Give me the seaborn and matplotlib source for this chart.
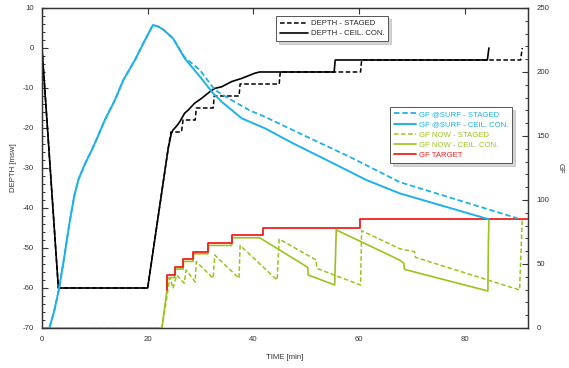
import numpy as np
import pandas as pd
import seaborn as sns
import matplotlib
matplotlib.use("Agg")
import matplotlib.pyplot as plt
from matplotlib.ticker import MultipleLocator

# depth profiles [min], [msw]
t_depth_cc = [0, 3.1, 20, 23.9, 24.5, 24.8, 25.5, 26.1, 27.0, 27.7, 28.9, 30.2, 31.8,
              32.7, 34.0, 35.9, 37.8, 40.3, 41.2, 55.3, 55.5, 84.3, 84.6]
depth_cc = [0, -60, -60, -25, -21.3, -20.5, -19.5, -18.4, -16.3, -15.5, -13.8, -12.6, -10.9,
            -10.1, -9.7, -8.4, -7.6, -6.3, -6.0, -6.0, -3.0, -3.0, 0]
t_depth_st = [0, 3.1, 20, 23.9, 24.4, 26.4, 26.7, 29.0, 29.2, 32.4, 32.6, 37.3, 37.5, 44.9,
              45.1, 60.3, 60.5, 90.6, 90.9]
depth_st = [0, -60, -60, -25, -21, -21, -18, -18, -15, -15, -12, -12, -9, -9,
            -6, -6, -3, -3, 0]

# gradient factors [%]
t_surf_cc = [0, 1.4, 2.3, 3.2, 4.2, 5.2, 6.1, 6.9, 8.0, 9.3, 10.3, 11.9, 13.8, 15.4, 17.6,
             19.5, 21.0, 22.0, 22.9, 24.8, 27.0, 29.9, 32.4, 34.0, 37.8, 42.2, 47.5, 55.1,
             61.4, 67.7, 84.6]
gf_surf_cc = [0, 0, 13, 30, 55, 82, 103, 116, 127, 138, 147, 162.5, 178, 193.7, 209.4,
              225, 236.7, 235.5, 233.3, 226.3, 210.7, 196.3, 183.3, 176.8, 163.8, 156, 144.3,
              128.7, 115.6, 105.2, 84.9]
t_surf_st = [0, 1.4, 2.3, 3.2, 4.2, 5.2, 6.1, 6.9, 8.0, 9.3, 10.3, 11.9, 13.8, 15.4, 17.6,
             19.5, 21.0, 22.0, 22.9, 24.8, 27.0, 28.3, 29.9, 32.7, 35.9, 39.3, 42.2, 48.8,
             58.2, 67.7, 90.0]
gf_surf_st = [0, 0, 13, 30, 55, 82, 103, 116, 127, 138, 147, 162.5, 178, 193.7, 209.4,
              225, 236.7, 235.5, 233.3, 226.3, 211.5, 207, 201.5, 186, 178, 170, 165, 152,
              133.8, 114, 85.7]
t_now_st = [0, 22.7, 23.6, 24.2, 24.8, 25.5, 26.9, 27.3, 29.0, 29.2, 32.4, 32.7, 37.3, 37.5,
            44.5, 44.9, 51.9, 52.0, 60.3, 60.5, 67.7, 70.5, 70.7, 90.4, 90.9]
gf_now_st = [0, 0, 23, 39.6, 31, 41.4, 35, 45.3, 36, 51.8, 38.8, 57, 38.8, 64.5,
             37.5, 69.5, 53.1, 46.6, 33.6, 76, 62, 59.6, 55.2, 29.7, 85]
t_now_cc = [0, 22.7, 23.6, 23.8, 25.1, 25.2, 26.7, 26.8, 28.6, 28.7, 31.4, 31.5, 35.9, 36.0,
            41.2, 50.3, 50.4, 55.4, 55.7, 67.7, 68.5, 68.6, 84.4, 84.5, 84.6]
gf_now_cc = [0, 0, 28, 39, 39.5, 46, 46, 52, 52, 58, 58, 64.5, 64.5, 70.5,
             70.5, 47.4, 41.4, 33.6, 76.6, 53.1, 50.5, 45.8, 28.9, 67, 85]
t_target = [23.6, 23.6, 25.1, 25.1, 26.7, 26.7, 28.6, 28.6, 31.4, 31.4, 35.9, 35.9,
            41.8, 41.8, 60.1, 60.1, 92]
gf_target = [30, 41.4, 41.4, 47.9, 47.9, 53.9, 53.9, 59.6, 59.6, 66.1, 66.1, 72.6,
             72.6, 77.9, 77.9, 85, 85]

blue = "#1fb0ea"
green = "#9bc31e"
red = "#f02020"

sns.set_style("white")
plt.rcParams["font.family"] = ["Liberation Sans", "DejaVu Sans"]
plt.rcParams["axes.unicode_minus"] = False
fs = 5.6

fig = plt.figure(figsize=(5.69, 3.68), dpi=100)
ax = fig.add_axes([0.0738, 0.1087, 0.8542, 0.8696])
ax2 = ax.twinx()

kw = dict(sort=False, estimator=None, legend=False)
sns.lineplot(x=t_depth_st, y=depth_st, ax=ax, color="black", lw=1.1,
             linestyle=(0, (3, 1.6)), **kw)
sns.lineplot(x=t_depth_cc, y=depth_cc, ax=ax, color="black", lw=1.2, **kw)

sns.lineplot(x=t_now_st, y=gf_now_st, ax=ax2, color=green, lw=1.1,
             linestyle=(0, (3, 1.6)), **kw)
sns.lineplot(x=t_now_cc, y=gf_now_cc, ax=ax2, color=green, lw=1.2, **kw)
sns.lineplot(x=t_target, y=gf_target, ax=ax2, color=red, lw=1.3, **kw)
sns.lineplot(x=t_surf_st, y=gf_surf_st, ax=ax2, color=blue, lw=1.3,
             linestyle=(0, (3, 1.6)), **kw)
sns.lineplot(x=t_surf_cc, y=gf_surf_cc, ax=ax2, color=blue, lw=1.4, **kw)

ax.set_xlim(0, 92)
ax.set_ylim(-70, 10)
ax2.set_ylim(0, 250)
ax.xaxis.set_major_locator(MultipleLocator(20))
ax.yaxis.set_major_locator(MultipleLocator(10))
ax.yaxis.set_minor_locator(MultipleLocator(2))
ax2.yaxis.set_major_locator(MultipleLocator(50))
ax2.yaxis.set_minor_locator(MultipleLocator(10))

ax.tick_params(axis="x", which="major", direction="in", length=4, width=0.8,
               top=True, labelsize=fs, colors="#333333", pad=6)
ax.tick_params(axis="y", which="major", direction="in", length=4, width=0.8,
               labelsize=fs, colors="#333333", pad=6)
ax.tick_params(axis="y", which="minor", direction="in", length=2, width=0.7,
               left=True, colors="#333333")
ax2.tick_params(axis="y", which="major", direction="in", length=4, width=0.8,
                labelsize=fs, colors="#333333", pad=6)
ax2.tick_params(axis="y", which="minor", direction="in", length=2, width=0.7,
                right=True, colors="#333333")

for a in (ax, ax2):
    for s in a.spines.values():
        s.set_color("#333333")
        s.set_linewidth(0.9)

ax.set_xlabel("TIME [min]", fontsize=fs, color="#333333", labelpad=8)
ax.set_ylabel("DEPTH [msw]", fontsize=fs, color="#333333", labelpad=4)
ax2.set_ylabel("GF", fontsize=fs, color="#333333", rotation=-90, labelpad=10)

shadow = {"color": "#aaaaaa"}
h1 = [plt.Line2D([], [], color="black", lw=1.1, linestyle=(0, (3, 1.6))),
      plt.Line2D([], [], color="black", lw=1.2)]
leg1 = ax.legend(h1, ["DEPTH - STAGED", "DEPTH - CEIL. CON."], loc="upper left",
                 bbox_to_anchor=(0.481, 0.975), borderaxespad=0, fontsize=fs,
                 frameon=True, fancybox=False, shadow=shadow, edgecolor="#555555",
                 framealpha=1, handlelength=3.6, borderpad=0.5, labelspacing=0.35,
                 handletextpad=0.4)
leg1.get_frame().set_linewidth(0.7)

h2 = [plt.Line2D([], [], color=blue, lw=1.3, linestyle=(0, (3, 1.6))),
      plt.Line2D([], [], color=blue, lw=1.4),
      plt.Line2D([], [], color=green, lw=1.1, linestyle=(0, (3, 1.6))),
      plt.Line2D([], [], color=green, lw=1.2),
      plt.Line2D([], [], color=red, lw=1.3)]
labels2 = ["GF @SURF - STAGED", "GF @SURF - CEIL. CON.", "GF NOW - STAGED",
           "GF NOW - CEIL. CON.", "GF TARGET"]
leg2 = ax2.legend(h2, labels2, loc="upper left", bbox_to_anchor=(0.716, 0.691),
                  borderaxespad=0, fontsize=fs, frameon=True, fancybox=False,
                  shadow=shadow, edgecolor="#555555", framealpha=1, handlelength=2.8,
                  borderpad=0.5, labelspacing=0.35, handletextpad=0.4)
leg2.get_frame().set_linewidth(0.7)
for txt, c in zip(leg2.get_texts(), [blue, blue, green, green, red]):
    txt.set_color(c)

fig.savefig("out.png", dpi=100)
